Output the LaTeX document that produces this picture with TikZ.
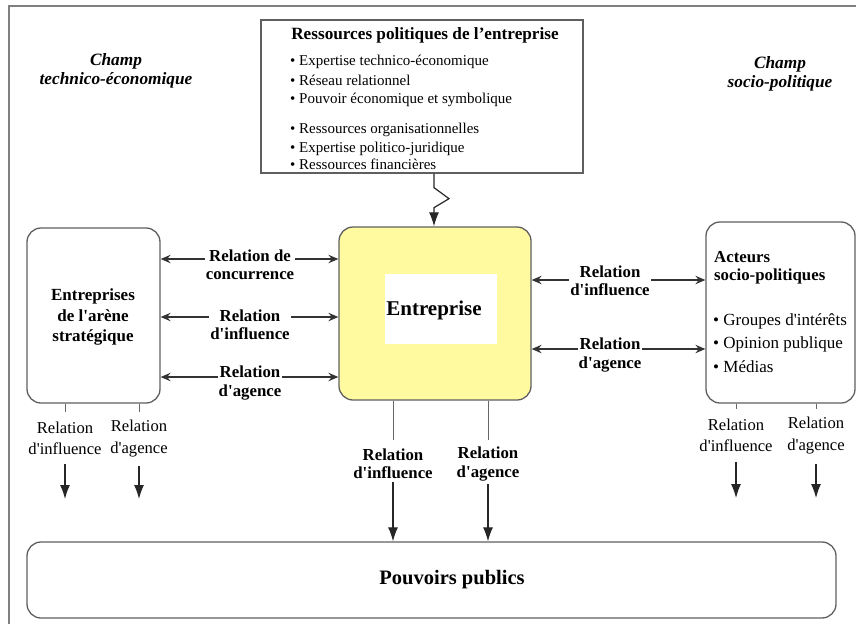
\documentclass[tikz,border=0pt]{standalone}
\usepackage{fontspec}
\setmainfont{Liberation Serif}
\usetikzlibrary{arrows.meta}
\newcommand{\myq}{\textquotesingle}
\definecolor{boxgray}{RGB}{95,95,95}
\definecolor{entyellow}{RGB}{255,250,160}
\definecolor{framegray}{RGB}{128,128,128}
\begin{document}
\begin{tikzpicture}[x=1pt,y=-1pt,
  box/.style={draw=boxgray, line width=1.3pt, rounded corners=14pt, inner sep=0pt},
  sqbox/.style={draw=boxgray, line width=1.3pt, inner sep=0pt},
  harr/.style={{Stealth[length=10pt,width=8.5pt,inset=3.5pt]}-{Stealth[length=10pt,width=8.5pt,inset=3.5pt]}, line width=1.2pt, draw=black!80},
  darr/.style={-{Latex[length=14pt,width=10pt]}, line width=1.2pt, draw=black!85},
  vline/.style={line width=1pt, draw=black!60},
  blbl/.style={font=\bfseries\fontsize{16.8}{18.5}\selectfont, align=center, fill=white, inner sep=1pt},
  rlbl/.style={font=\fontsize{16.6}{21.5}\selectfont, align=center, fill=white, inner sep=1pt},
  bullet/.style={font=\fontsize{15}{17}\selectfont, anchor=base west, inner sep=0pt},
  champ/.style={font=\bfseries\itshape\fontsize{17.3}{19}\selectfont, align=center}
]
\useasboundingbox (0,0) rectangle (856,624);
% outer frame
\draw[framegray, line width=2pt] (9,624) -- (9,6) -- (856,6);

% champ labels
\node[champ] (champte) at (116,71) {Champ\\technico-économique};
\node[champ] (champsp) at (780,74) {Champ\\socio-politique};

% ressources box
\node[sqbox, minimum width=322pt, minimum height=153pt] (res) at (422,96.5) {};
\node[font=\bfseries\fontsize{17.2}{19}\selectfont] (restitle) at (425,35) {Ressources politiques de l’entreprise};
\node[bullet] (b1) at (290,65) {• Expertise technico-économique};
\node[bullet] (b2) at (290,85) {• Réseau relationnel};
\node[bullet] (b3) at (290,103) {• Pouvoir économique et symbolique};
\node[bullet] (b4) at (290,133) {• Ressources organisationnelles};
\node[bullet] (b5) at (290,152) {• Expertise politico-juridique};
\node[bullet] (b6) at (290,169) {• Ressources financières};

% entreprise
\node[box, fill=entyellow, minimum width=192pt, minimum height=173pt] (ent) at (435,313.5) {};
\node[fill=white, minimum width=112pt, minimum height=70pt, inner sep=0pt] (entbg) at (441,309) {};
\node[font=\bfseries\fontsize{21}{24}\selectfont, inner sep=0pt] (entlbl) at (434,310) {Entreprise};

% zigzag arrow
\draw[darr] (res.south -| entlbl.north) -- ++(0,14) -- ++(15,11) -- ++(-15,9) -- (ent.north -| entlbl.north);

% left box
\node[box, minimum width=133pt, minimum height=175pt] (lbox) at (93.5,315.5) {};
\node[font=\bfseries\fontsize{17}{20.5}\selectfont, align=center] (lboxt) at (93,317) {Entreprises\\de l\myq arène\\stratégique};

% right box
\node[box, minimum width=149pt, minimum height=181pt] (rbox) at (780.5,312.5) {};
\node[font=\bfseries\fontsize{16.8}{18}\selectfont, align=left, anchor=north west, inner sep=0pt] (rboxt) at (714,251) {Acteurs\\socio-politiques};
\node[font=\fontsize{17}{23.5}\selectfont, align=left, anchor=north west, inner sep=0pt] (rboxl) at (713,313) {• Groupes d\myq intérêts\\• Opinion publique\\• Médias};

% pouvoirs publics
\node[box, minimum width=809pt, minimum height=76pt] (pp) at (431.5,580) {};
\node[font=\bfseries\fontsize{20.5}{23}\selectfont] (pplbl) at (452,580) {Pouvoirs publics};

% left horizontal relations
\draw[harr] (lbox.east |- 0,259) -- (ent.west |- 0,259);
\node[blbl] (lr1) at (250,265) {Relation de\\concurrence};
\draw[harr] (lbox.east |- 0,317) -- (ent.west |- 0,317);
\node[blbl] (lr2) at (250,325) {Relation\\d\myq influence};
\draw[harr] (lbox.east |- 0,377) -- (ent.west |- 0,377);
\node[blbl] (lr3) at (250,383) {Relation\\d\myq agence};

% right horizontal relations
\draw[harr] (ent.east |- 0,280) -- (rbox.west |- 0,280);
\node[blbl] (rr1) at (610,281) {Relation\\d\myq influence};
\draw[harr] (ent.east |- 0,349) -- (rbox.west |- 0,349);
\node[blbl] (rr2) at (610,355) {Relation\\d\myq agence};

% entreprise to pouvoirs publics
\node[blbl, inner sep=3pt] (ci) at (393,464) {Relation\\d\myq influence};
\node[blbl, inner sep=3pt] (ca) at (488,464) {Relation\\d\myq agence};
\draw[vline] (ent.south -| ci.north) -- (0,440 -| ci.north);
\draw[vline] (ent.south -| ca.north) -- (0,440 -| ca.north);
\draw[darr] (ci.south) -- (pp.north -| ci.south);
\draw[darr] (ca.south) -- (pp.north -| ca.south);

% left box downward relations
\node[rlbl] (li) at (65,438.5) {Relation\\d\myq influence};
\node[rlbl] (la) at (139,438.5) {Relation\\d\myq agence};
\draw[vline] (lbox.south -| li.north) -- ++(0,8);
\draw[vline] (lbox.south -| la.north) -- ++(0,8);
\coordinate (lie) at (65,499);
\coordinate (lae) at (139,499);
\draw[darr, shorten <=8pt] (li.south) -- (lie);
\draw[darr, shorten <=8pt] (la.south) -- (lae);

% right box downward relations
\node[rlbl] (ri) at (736,435.5) {Relation\\d\myq influence};
\node[rlbl] (ra) at (816,435.5) {Relation\\d\myq agence};
\draw[vline] (rbox.south -| ri.north) -- ++(0,5);
\draw[vline] (rbox.south -| ra.north) -- ++(0,5);
\coordinate (rie) at (736,498);
\coordinate (rae) at (816,498);
\draw[darr, shorten <=9pt] (ri.south) -- (rie);
\draw[darr, shorten <=9pt] (ra.south) -- (rae);
\end{tikzpicture}
\end{document}
